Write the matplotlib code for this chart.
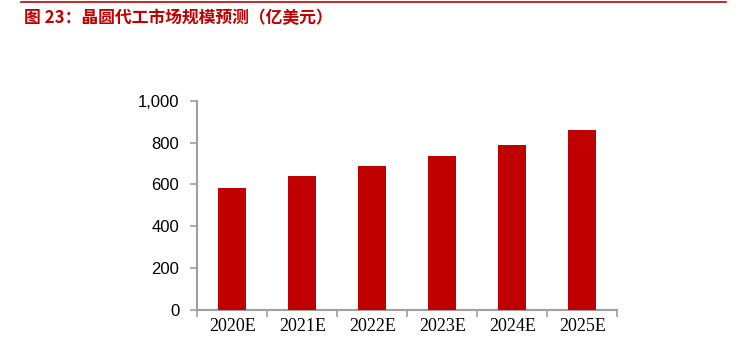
import matplotlib
matplotlib.use("Agg")
import matplotlib.pyplot as plt
from matplotlib.lines import Line2D

categories = ["2020E", "2021E", "2022E", "2023E", "2024E", "2025E"]
values = [583, 642, 689, 736, 790, 859]
yticks = [0, 200, 400, 600, 800, 1000]
ytick_labels = ["0", "200", "400", "600", "800", "1,000"]
title = "图 23：晶圆代工市场规模预测（亿美元）"

W, H = 746, 356
fig = plt.figure(figsize=(W / 100, H / 100), dpi=100)
fig.patch.set_facecolor("white")

# top rule
fig.add_artist(Line2D([21 / W, 726 / W], [1 - 1.5 / H, 1 - 1.5 / H], color="#c00000", lw=1.2))
fig.text(24 / W, 1 - 18 / H, title, color="#c00000", fontsize=12.1, fontweight="bold",
         family=["Noto Sans CJK SC", "DejaVu Sans"], va="center", ha="left")

ax = fig.add_axes([197.3 / W, 1 - 310 / H, (617.3 - 197.3) / W, (310 - 100.7) / H])
x = list(range(len(categories)))
ax.bar(x, values, width=0.4, color="#c00000", zorder=3)
ax.set_xlim(-0.5, len(categories) - 0.5)
ax.set_ylim(0, 1000)
ax.set_yticks(yticks)
ax.set_yticklabels(ytick_labels, family="Liberation Sans", fontsize=12, color="black")
ax.set_xticks(x)
ax.set_xticklabels(categories, family="Liberation Serif", fontsize=13, color="black")
ax.set_xticks([i - 0.5 for i in range(len(categories) + 1)], minor=True)
ax.tick_params(axis="x", which="major", length=0, pad=6)
ax.tick_params(axis="x", which="minor", length=5, color="#a0a0a0", width=1.2, direction="out")
ax.tick_params(axis="y", length=5, color="#a0a0a0", width=1.2, direction="out", pad=8)
for s in ["top", "right"]:
    ax.spines[s].set_visible(False)
for s in ["left", "bottom"]:
    ax.spines[s].set_color("#a0a0a0")
    ax.spines[s].set_linewidth(1.5)

fig.savefig("out.png", dpi=100)
